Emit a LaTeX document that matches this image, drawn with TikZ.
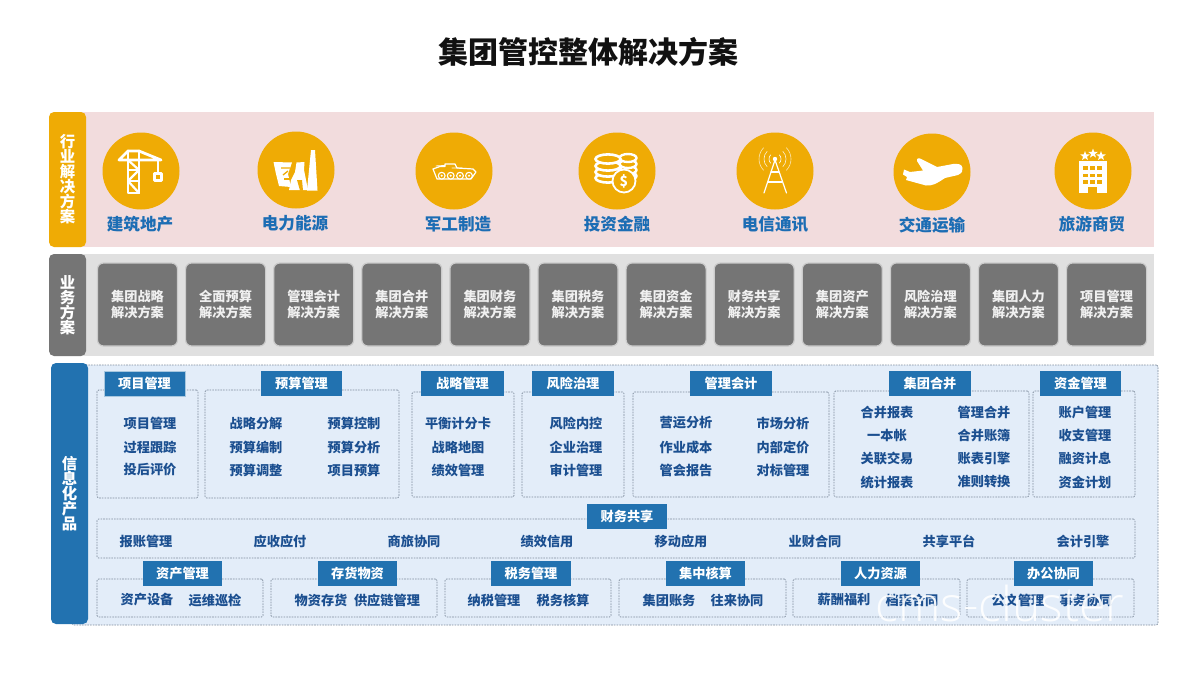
\documentclass[tikz,border=0pt]{standalone}
\usepackage{fontspec}
\setmainfont{Noto Sans CJK SC}
\newfontfamily\wmfont{Open Sans Light}
\usetikzlibrary{shapes.geometric}
\definecolor{titleblack}{HTML}{111111}
\definecolor{pinkbg}{HTML}{F2DCDD}
\definecolor{amber}{HTML}{EFAB05}
\definecolor{labelblue}{HTML}{1C6DB4}
\definecolor{greybg}{HTML}{E0E0E0}
\definecolor{greydark}{HTML}{757575}
\definecolor{greyedge}{HTML}{CBCBCB}
\definecolor{sideblue}{HTML}{2272B0}
\definecolor{panelbg}{HTML}{E3EDF9}
\definecolor{dashgrey}{HTML}{7E8C9C}
\definecolor{itemblue}{HTML}{1B4F90}
\tikzset{
  sidebar/.style={rounded corners=5pt,fill=#1,draw=none,text=white,align=center,
    font=\bfseries\fontsize{15.4}{15}\selectfont},
  industrycircle/.style={circle,fill=amber,draw=none,minimum size=77pt,inner sep=0pt},
  industrylabel/.style={text=labelblue,font=\bfseries\fontsize{16.6}{18}\selectfont,inner sep=0pt},
  tile/.style={rounded corners=6pt,fill=greydark,draw=greyedge,line width=1.2pt,text=white!94!black,align=center,
    font=\bfseries\fontsize{13.2}{16}\selectfont},
  dashbox/.style={draw=dashgrey,line width=.7pt,dash pattern=on 1.6pt off 1.1pt,rounded corners=1.5pt},
  headbox/.style={fill=sideblue,draw=none,text=white,font=\bfseries\fontsize{13.2}{15}\selectfont},
  item/.style={text=itemblue,font=\bfseries\fontsize{13.2}{15}\selectfont,inner sep=0pt},
  iconline/.style={draw=white,line width=#1,line join=round,line cap=round},
  iconline/.default=2.8pt,
  iconfill/.style={fill=white,draw=none},
}
\newcommand{\rectnode}[7]{%
  \pgfmathsetmacro\rw{#4-#2}\pgfmathsetmacro\rh{#5-#3}%
  \node[#6,anchor=north west,minimum width=\rw pt,minimum height=\rh pt,inner sep=0pt,outer sep=0pt] (#1) at (#2,#3) {#7};}
\newcommand{\itm}[4]{\node[item] (#1) at (#2,#3) {#4};}
\begin{document}
\begin{tikzpicture}[x=1pt,y=-1pt]
\useasboundingbox (0,0) rectangle (1200,675);
\fill[white] (0,0) rectangle (1200,675);
\node[text=titleblack,font=\bfseries\fontsize{30}{32}\selectfont,inner sep=0pt] (title) at (588,52) {集团管控整体解决方案};

% Industry band
\rectnode{pinkband}{70}{112}{1154}{247}{fill=pinkbg}{}
\rectnode{side1}{49}{112}{86}{247}{sidebar=amber}{行\\业\\解\\决\\方\\案}
\foreach \n/\cx/\cy/\lx/\ly/\t in {crane/141/171/140/224/建筑地产,power/296/170/295/223/电力能源,tank/454/171/458/224/军工制造,coins/617/171/617/224/投资金融,tower/775/171/775/224/电信通讯,plane/932/172/932/225/交通运输,hotel/1093/171/1092/224/旅游商贸}{
  \node[industrycircle] (c\n) at (\cx,\cy) {};
  \node[industrylabel] (l\n) at (\lx,\ly) {\t};
}
% crane
\draw[iconline] (119,160) -- (161,160) -- (139,151) -- (128,151) -- cycle;
\draw[iconline] (128,151) -- (128,193) -- (139,193) -- (139,151);
\draw[iconline=2.2pt] (128,160) -- (139,170) -- (128,181) -- (139,193);
\draw[iconline=2pt] (128,170) -- (139,170) (128,181) -- (139,181);
\draw[iconline=2.2pt] (158,160) -- (158,172);
\draw[iconline=3pt] (154,173) rectangle (161,180);
% power
\fill[white] (273.5,162) -- (292,162.5) -- (288,174) -- (291,187) -- (279,186) -- (276,174) -- cycle;
\fill[white] (296.5,162.5) -- (304.5,162) -- (304,170) -- (308,190) -- (289,190) -- (291,180) -- (295,172) -- cycle;
\fill[white] (311,150) -- (315,150) -- (317.5,190.5) -- (307,190.5) -- cycle;
\draw[amber,line width=1.3pt] (281,168) -- (290,168) (283,175) -- (288,171);
\draw[amber,line width=1.3pt] (284,179) -- (290,179);
\fill[amber] (297,180) -- (302,180) -- (303,190.5) -- (300,190.5) -- cycle;
% tank
\draw[iconline=1.2pt] (433,169) -- (440,166.5) -- (445,166.5) -- (445,164) -- (455,164) -- (457,168) -- (473,169) -- (476,172) -- (471,179) -- (437,179) -- cycle;
\draw[iconline=.9pt] (436,166) -- (445,165.5) (452,168) -- (462,168);
\foreach \wx in {441.7,450.7,460,469}{\draw[iconline=1.1pt,fill=amber] (\wx,175.7) circle[radius=3.4pt]; \fill[white] (\wx,175.7) circle[radius=1.2pt];}
% coins
\foreach \yy in {176,170,164}{\draw[draw=white,line width=2.4pt,fill=amber] (628,\yy) ellipse[x radius=8.5pt,y radius=4pt];}
\draw[white,line width=2.4pt,fill=amber] (628,158) ellipse[x radius=8.5pt,y radius=4pt];
\foreach \yy in {178,172,166}{\draw[draw=white,line width=2.6pt,fill=amber] (608,\yy) ellipse[x radius=12.5pt,y radius=4.6pt];}
\draw[white,line width=2.6pt,fill=amber] (608,159) ellipse[x radius=12.5pt,y radius=4.6pt];
\draw[white,line width=1.8pt,fill=amber] (624,181) circle[radius=11.5pt];
\node[text=white,font=\bfseries\fontsize{14}{14}\selectfont,inner sep=0pt] (dollar) at (624,181) {\$};
% tower
\draw[iconline=1.2pt] (764,193) -- (775,160) -- (786.5,193);
\draw[iconline=1.2pt] (771,172) -- (779,172) (768,182) -- (782,182);
\fill[white] (775,159) circle[radius=2.2pt];
\foreach \rr/\op in {6/1,11/.85,16/.7}{
  \draw[white,line width=.6pt,opacity=\op] (775,159) ++(135:\rr pt) arc[start angle=135,end angle=225,radius=\rr pt];
  \draw[white,line width=.6pt,opacity=\op] (775,159) ++(-45:\rr pt) arc[start angle=-45,end angle=45,radius=\rr pt];
}
% plane
\fill[white] (962.5,168) .. controls (962,164) and (958,163.5) .. (953,164) -- (937,167) -- (920,158.5) .. controls (917,158) and (916,159.5) .. (917,161) -- (923,170.5) -- (910,172) -- (904,169.5) -- (903,174.5) -- (907,177) -- (906,180) -- (926,185.5) .. controls (932,186) and (936,184) .. (945,178) -- (958,175) .. controls (962,173) and (963,171) .. (962.5,168) -- cycle;
% hotel
\fill[white] (1079,161) rectangle (1106.7,193.3);
\foreach \hx in {1082.5,1089.5,1096.5}{\foreach \hy in {166,173.5,180}{\fill[amber] (\hx,\hy) rectangle ++(5.5,3.6);}}
\fill[amber] (1088.3,187) rectangle (1097.3,193.5);
\foreach \s/\sx/\sy in {a/1085/156,b/1093/153.5,c/1101/156}{\node[star,star points=5,star point ratio=2.4,fill=white,inner sep=0pt,minimum size=10pt] (star\s) at (\sx,\sy) {};}

% Business band
\rectnode{greyband}{70}{254}{1154}{356}{fill=greybg}{}
\rectnode{side2}{49}{254}{86}{356}{sidebar=greydark}{业\\务\\方\\案}
\newcounter{tilei}
\foreach \a in {集团战略,全面预算,管理会计,集团合并,集团财务,集团税务,集团资金,财务共享,集团资产,风险治理,集团人力,项目管理}{
  \pgfmathsetmacro\tx{97.5+88.1*\value{tilei}}
  \pgfmathsetmacro\txr{\tx+80}
  \rectnode{tile\arabic{tilei}}{\tx}{263}{\txr}{346}{tile}{\a\\解决方案}
  \global\stepcounter{tilei}
}

% Information panel
\rectnode{panel}{72}{365}{1158}{625}{dashbox,fill=panelbg}{}
\rectnode{side3}{51}{363}{88}{624}{sidebar=sideblue}{信\\息\\化\\产\\品}

% Upper boxes
\rectnode{bxa}{97}{390}{198}{498}{dashbox}{}
\rectnode{bxb}{205}{390}{399}{498}{dashbox}{}
\rectnode{bxc}{412}{392}{514}{497}{dashbox}{}
\rectnode{bxd}{522}{392}{624}{497}{dashbox}{}
\rectnode{bxe}{633}{392}{829}{497}{dashbox}{}
\rectnode{bxf}{834}{391}{1029}{497}{dashbox}{}
\rectnode{bxg}{1033}{391}{1135}{497}{dashbox}{}
\rectnode{hda}{104}{371}{185}{396}{headbox,draw=white!60!sideblue,line width=.6pt}{项目管理}
\rectnode{hdb}{261}{371}{342}{396}{headbox}{预算管理}
\rectnode{hdc}{421}{371}{504}{396}{headbox}{战略管理}
\rectnode{hdd}{532}{371}{614}{396}{headbox}{风险治理}
\rectnode{hde}{690}{371}{772}{396}{headbox}{管理会计}
\rectnode{hdf}{889}{371}{971}{396}{headbox}{集团合并}
\rectnode{hdg}{1040}{371}{1121}{396}{headbox}{资金管理}

\itm{a1}{150}{423}{项目管理}\itm{a2}{150}{447}{过程跟踪}\itm{a3}{150}{470}{投后评价}
\itm{b1}{256}{423}{战略分解}\itm{b2}{256}{447}{预算编制}\itm{b3}{256}{470}{预算调整}
\itm{b4}{354}{423}{预算控制}\itm{b5}{354}{447}{预算分析}\itm{b6}{354}{470}{项目预算}
\itm{c1}{458}{423}{平衡计分卡}\itm{c2}{458}{447}{战略地图}\itm{c3}{458}{470}{绩效管理}
\itm{d1}{576}{423}{风险内控}\itm{d2}{576}{447}{企业治理}\itm{d3}{576}{470}{审计管理}
\itm{e1}{686}{423}{营运分析}\itm{e2}{686}{447}{作业成本}\itm{e3}{686}{470}{管会报告}
\itm{e4}{783}{423}{市场分析}\itm{e5}{783}{447}{内部定价}\itm{e6}{783}{470}{对标管理}
\itm{f1}{887}{412}{合并报表}\itm{f2}{887}{435}{一本帐}\itm{f3}{887}{458}{关联交易}\itm{f4}{887}{482}{统计报表}
\itm{f5}{984}{412}{管理合并}\itm{f6}{984}{435}{合并账簿}\itm{f7}{984}{458}{账表引擎}\itm{f8}{984}{482}{准则转换}
\itm{g1}{1085}{412}{账户管理}\itm{g2}{1085}{435}{收支管理}\itm{g3}{1085}{458}{融资计息}\itm{g4}{1085}{482}{资金计划}

% Shared services row
\rectnode{bxh}{97}{519}{1135}{558}{dashbox}{}
\rectnode{hdh}{587}{504}{667}{529}{headbox}{财务共享}
\foreach \n/\hx/\t in {1/146/报账管理,2/280/应收应付,3/414/商旅协同,4/547/绩效信用,5/681/移动应用,6/815/业财合同,7/949/共享平台,8/1083/会计引擎}{
  \node[item] (h\n) at (\hx,541) {\t};
}

% Bottom row
\rectnode{bxi}{97}{579}{263}{617}{dashbox}{}
\rectnode{bxj}{271}{579}{437}{617}{dashbox}{}
\rectnode{bxk}{445}{579}{611}{617}{dashbox}{}
\rectnode{bxl}{619}{579}{786}{617}{dashbox}{}
\rectnode{bxm}{793}{579}{960}{617}{dashbox}{}
\rectnode{bxn}{967}{579}{1134}{617}{dashbox}{}
\rectnode{hdi}{143}{561}{222}{586}{headbox}{资产管理}
\rectnode{hdj}{318}{561}{397}{586}{headbox}{存货物资}
\rectnode{hdk}{491}{561}{571}{586}{headbox}{税务管理}
\rectnode{hdl}{666}{561}{745}{586}{headbox}{集中核算}
\rectnode{hdm}{841}{561}{920}{586}{headbox}{人力资源}
\rectnode{hdn}{1014}{561}{1093}{586}{headbox}{办公协同}
\itm{i1}{147}{600}{资产设备}\itm{i2}{215}{600}{运维巡检}
\itm{j1}{321}{600}{物资存货}\itm{j2}{387}{600}{供应链管理}
\itm{k1}{494}{600}{纳税管理}\itm{k2}{563}{600}{税务核算}
\itm{l1}{669}{600}{集团账务}\itm{l2}{737}{600}{往来协同}
\itm{m1}{844}{600}{薪酬福利}\itm{m2}{912}{600}{档案合同}
\itm{n1}{1018}{600}{公文管理}\itm{n2}{1086}{600}{事务协同}

% Watermark
\node[text=white,opacity=.9,font=\wmfont\fontsize{48}{50}\selectfont,inner sep=0pt] (wm) at (1000,603) {cms-cluster};
\end{tikzpicture}
\end{document}
